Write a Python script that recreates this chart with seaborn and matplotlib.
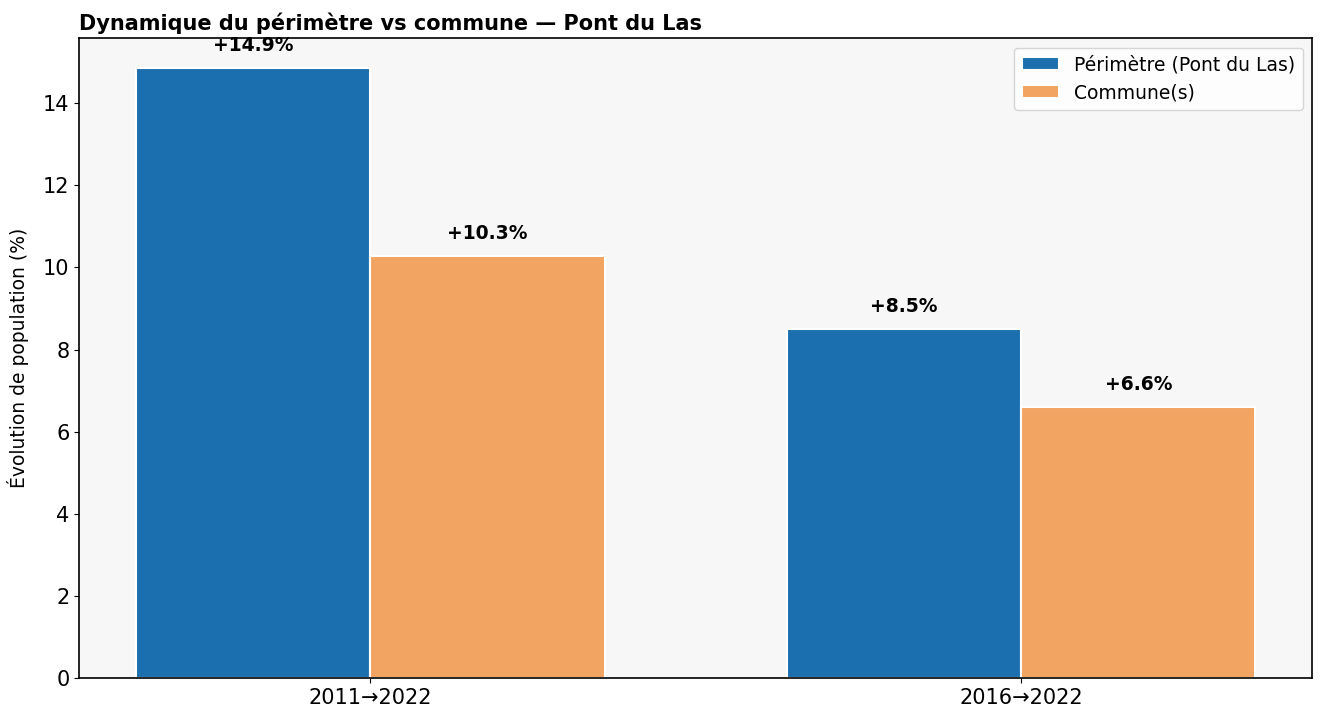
import matplotlib
matplotlib.use("Agg")
import matplotlib.pyplot as plt
import seaborn as sns
import pandas as pd

periods = ["2011→2022", "2016→2022"]
series = ["Périmètre (Pont du Las)", "Commune(s)"]
perimetre = [14.85, 8.5]
commune = [10.27, 6.6]
labels_perimetre = ["+14.9%", "+8.5%"]
labels_commune = ["+10.3%", "+6.6%"]
colors = ["#1c6fae", "#f2a463"]

df = pd.DataFrame({
    "period": periods * 2,
    "serie": [series[0]] * 2 + [series[1]] * 2,
    "value": perimetre + commune,
})

sns.set_style("ticks")
plt.rcParams["font.family"] = ["DejaVu Sans"]
plt.rcParams["text.color"] = "black"
plt.rcParams["axes.labelcolor"] = "black"
plt.rcParams["xtick.color"] = "black"
plt.rcParams["ytick.color"] = "black"

fig, ax = plt.subplots(figsize=(13.2, 7.2), dpi=100)
ax.set_facecolor("#f7f7f7")
sns.barplot(data=df, x="period", y="value", hue="serie", order=periods,
            hue_order=series, palette=colors, width=0.72, saturation=1,
            edgecolor="white", linewidth=1.5, ax=ax)

lab_map = {series[0]: labels_perimetre, series[1]: labels_commune}
for cont, s in zip(ax.containers, series):
    for bar, lab in zip(cont, lab_map[s]):
        ax.annotate(lab, (bar.get_x() + bar.get_width() / 2, bar.get_height()),
                    xytext=(0, 9.5), textcoords="offset points", ha="center",
                    va="bottom", fontsize=13.5, fontweight="bold", color="black")

ax.set_xlim(-0.447, 1.447)
ax.set_ylim(0, 15.58)
ax.set_xlabel("")
ax.set_ylabel("Évolution de population (%)", fontsize=13.5, color="black",
              labelpad=10)
ax.tick_params(axis="both", labelsize=15, colors="black")
ax.set_title("Dynamique du périmètre vs commune — Pont du Las", loc="left",
             fontsize=15, fontweight="bold", color="black")
for sp in ax.spines.values():
    sp.set_visible(True)
    sp.set_color("black")
    sp.set_linewidth(1.2)
leg = ax.legend(title=None, loc="upper right", fontsize=13.5, frameon=True)
leg.get_frame().set_facecolor("white")
for t in leg.get_texts():
    t.set_color("black")

fig.subplots_adjust(left=0.06, right=0.994, top=0.947, bottom=0.058)
fig.savefig("out.png", dpi=100)
